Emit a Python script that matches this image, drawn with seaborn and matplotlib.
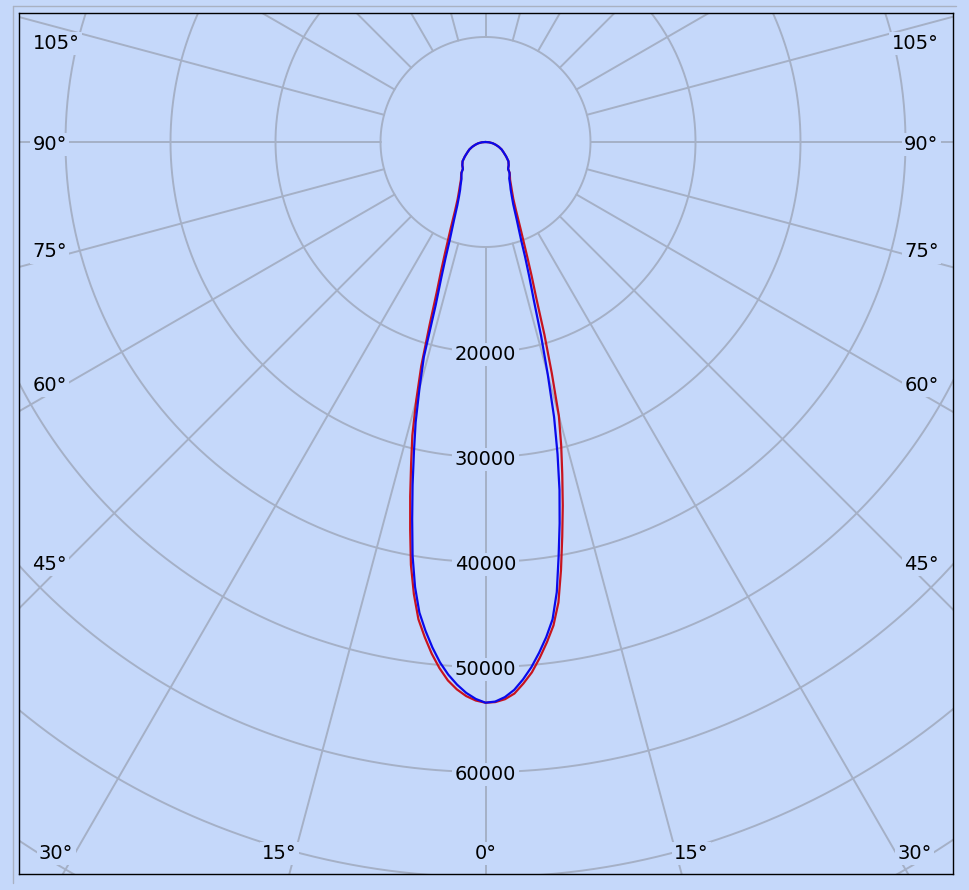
#!/usr/bin/env python3
import matplotlib
matplotlib.use("Agg")
import matplotlib.pyplot as plt
import numpy as np
import pandas as pd
import seaborn as sns
from matplotlib.lines import Line2D

# gamma angles (deg) and luminous intensity (cd) per half plane
GAMMA = [0, 1, 2, 3, 4, 5, 6, 7, 8, 9, 10, 11, 12, 13, 14, 15, 16, 17, 18, 19, 20,
         22, 24, 26, 28, 30, 33, 36, 38, 40, 42, 45, 50, 55, 60, 65, 70, 75, 80, 85, 90]
RED_LEFT = [53400, 53200, 52800, 52200, 51400, 50300, 49000, 47500, 45900, 43600, 40900,
            37600, 34500, 31500, 28800, 25500, 22200, 18200, 15000, 13000, 11300,
            8800, 7100, 6050, 5400, 4900, 4300, 3950, 3750, 3350, 3250, 3120,
            2850, 2400, 2000, 1700, 1350, 1000, 700, 350, 0]
RED_RIGHT = [53400, 53350, 53100, 52600, 51700, 50700, 49400, 48000, 46500, 44400, 41400,
             38300, 35400, 32500, 29800, 27000, 22900, 19200, 15700, 13500, 11600,
             8900, 7150, 6050, 5400, 4900, 4300, 3950, 3750, 3350, 3250, 3120,
             2850, 2400, 2000, 1700, 1350, 1000, 700, 350, 0]
BLUE_LEFT = [53400, 53050, 52500, 51750, 50850, 49750, 48400, 46900, 45250, 42900, 40000,
             36600, 33400, 30300, 27500, 24300, 21300, 16200, 13700, 11700, 10000,
             8000, 6600, 5750, 5150, 4750, 4200, 3900, 3700, 3350, 3250, 3120,
             2850, 2400, 2000, 1700, 1350, 1000, 700, 350, 0]
BLUE_RIGHT = [53400, 53300, 52900, 52250, 51300, 50200, 48900, 47500, 45900, 43400, 40100,
              37000, 33900, 30500, 27000, 22900, 19200, 15700, 13500, 11600, 9900,
              7900, 6500, 5700, 5100, 4700, 4150, 3900, 3700, 3350, 3250, 3120,
              2850, 2400, 2000, 1700, 1350, 1000, 700, 350, 0]

RINGS = [10000, 20000, 30000, 40000, 50000, 60000, 70000, 80000]
RING_LABELS = [20000, 30000, 40000, 50000, 60000]
SPOKES = list(range(0, 360, 15))
ANGLE_LABELS = [0, 15, 30, 45, 60, 75, 90, 105]

BG = "#c5d8fa"
GRID = "#a5b0c6"
W, H = 969, 890
PX = 10000 / 105            # cd per pixel
CX, CY = 485.5, 142.0       # pole position in pixels
LEFT, TOP, RIGHT, BOTTOM = 19.0, 13.3, 952.7, 874.3


def half_planes(left, right):
    ang = np.r_[-np.array(GAMMA[::-1], float), np.array(GAMMA[1:], float)]
    r = np.r_[np.array(left[::-1], float), np.array(right[1:], float)]
    t = np.radians(ang)
    return r * np.sin(t), -r * np.cos(t)


def build_frame() -> pd.DataFrame:
    parts = []
    for name, (lf, rt) in {"C0-C180": (RED_LEFT, RED_RIGHT),
                           "C90-C270": (BLUE_LEFT, BLUE_RIGHT)}.items():
        x, y = half_planes(lf, rt)
        parts.append(pd.DataFrame({"x": x, "y": y, "plane": name}))
    return pd.concat(parts, ignore_index=True)


def main() -> None:
    sns.set_theme(style="white")
    plt.rcParams["font.family"] = ["DejaVu Sans"]
    plt.rcParams["text.color"] = "black"

    fig = plt.figure(figsize=(W / 100, H / 100), dpi=100, facecolor=BG)
    ax = fig.add_axes([LEFT / W, 1 - BOTTOM / H, (RIGHT - LEFT) / W, (BOTTOM - TOP) / H])
    ax.set_facecolor(BG)
    ax.set_xlim((LEFT - CX) * PX, (RIGHT - CX) * PX)
    ax.set_ylim(-(BOTTOM - CY) * PX, (CY - TOP) * PX)

    # polar grid
    phi = np.linspace(0, 2 * np.pi, 721)
    for r in RINGS:
        ax.plot(r * np.sin(phi), r * np.cos(phi), color=GRID, lw=1.4, zorder=1)
    for a in SPOKES:
        t = np.radians(a)
        ax.plot([10000 * np.sin(t), 120000 * np.sin(t)],
                [-10000 * np.cos(t), -120000 * np.cos(t)], color=GRID, lw=1.4, zorder=1)

    box = dict(boxstyle="square,pad=0.12", fc=BG, ec="none")
    shift = 2.5 * PX  # move text down to centre the digits, not the line box
    for r in RING_LABELS:
        ax.text(0, -r - shift, f"{r}", ha="center", va="center", fontsize=14,
                color="black", bbox=box, zorder=3)

    for a in ANGLE_LABELS:
        for s in (-1, 1):
            if a == 0 and s == 1:
                continue
            t = np.radians(a + 1.2 if 0 < a < 90 else a)
            if a <= 30:
                dy = (851 - CY) * PX
                ax.text(s * dy * np.tan(t), -dy - shift, f"{a}°", ha="center",
                        va="center", fontsize=14, color="black", bbox=box, zorder=3)
            else:
                dx = 437.5 * PX
                y = min(-dx * np.cos(t) / np.sin(t), (CY - 41) * PX)
                ax.text(s * 453 * PX, y - shift, f"{a}°", ha="left" if s < 0 else "right",
                        va="center", fontsize=14, color="black", bbox=box, zorder=3)

    df = build_frame()
    sns.lineplot(data=df, x="x", y="y", hue="plane", hue_order=["C0-C180", "C90-C270"],
                 palette={"C0-C180": "#c8141e", "C90-C270": "#0a0aeb"}, sort=False,
                 estimator=None, lw=1.6, legend=False, ax=ax, zorder=4)

    ax.set(xlabel="", ylabel="", xticks=[], yticks=[])
    for sp in ax.spines.values():
        sp.set_color("black")
        sp.set_linewidth(1.0)
        sp.set_visible(True)

    # sunken panel edge
    edge = "#a9b1c2"
    fig.add_artist(Line2D([12.7 / W, 12.7 / W], [1 - 5.7 / H, 1 - 883 / H],
                          transform=fig.transFigure, color=edge, lw=1.0))
    fig.add_artist(Line2D([12.7 / W, 956 / W], [1 - 5.7 / H, 1 - 5.7 / H],
                          transform=fig.transFigure, color=edge, lw=1.0))

    fig.savefig("out.png", dpi=100, facecolor=BG)
    plt.close(fig)


if __name__ == "__main__":
    main()
